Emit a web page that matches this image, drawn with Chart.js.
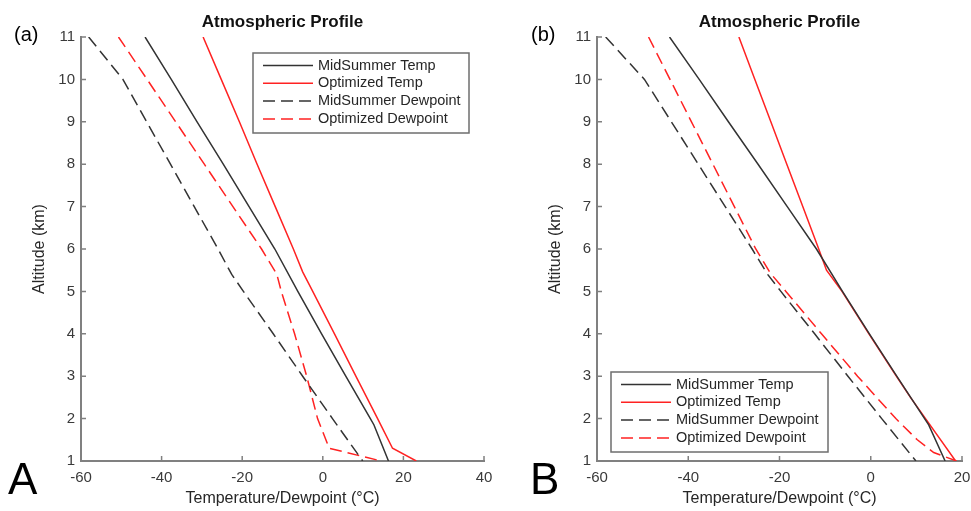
<!DOCTYPE html>
<html>
<head>
<meta charset="utf-8">
<title>Atmospheric Profile</title>
<script src="https://cdn.jsdelivr.net/npm/chart.js@4.4.1/dist/chart.umd.min.js"></script>
<style>
  html, body { margin: 0; padding: 0; background: #fff; }
  #wrap { position: relative; width: 971px; height: 511px; }
  #wrap canvas { position: absolute; left: 0; top: 0; }
</style>
</head>
<body>
<div id="wrap">
  <canvas id="chartA" width="971" height="511"></canvas>
  <canvas id="chartB" width="971" height="511"></canvas>
</div>
<script>
// series names
const seriesNames = ["MidSummer Temp", "Optimized Temp", "MidSummer Dewpoint", "Optimized Dewpoint"];

// MidSummer profile (same in both panels)
const altMidTemp = [11, 10, 9, 8, 7, 6, 5, 4, 3, 2, 1.85, 1];
const midTemp = [-44.1, -37.6, -31.2, -24.7, -18.3, -11.9, -6.2, -0.3, 5.7, 11.8, 12.7, 16.3];
const altMidDew = [11, 10, 9, 8, 7, 6, 5.4, 5, 4, 3, 2, 1];
const midDew = [-58.1, -49.6, -43.7, -37.8, -31.9, -26.0, -22.6, -19.7, -12.3, -5.0, 2.4, 9.9];

// panel (a) optimized profile
const altOptTempA = [11, 10, 9, 8, 7, 6, 5.46, 5, 4, 3, 2, 1.3, 1];
const optTempA = [-29.7, -25.2, -20.7, -16.3, -11.8, -7.3, -5.0, -2.5, 2.9, 8.2, 13.6, 17.3, 23.2];
const altOptDewA = [11, 10, 9, 8, 7, 6, 5.4, 5, 4, 3, 2, 1.3, 1];
const optDewA = [-50.7, -43.6, -36.5, -29.4, -22.3, -15.2, -11.4, -10.3, -7.0, -4.0, -1.3, 1.6, 14.5];

// panel (b) optimized profile
const altOptTempB = [11, 10, 9, 8, 7, 6, 5.5, 5, 4, 3, 2.5, 1];
const optTempB = [-28.9, -25.4, -21.9, -18.4, -14.9, -11.4, -9.7, -6.3, -0.4, 5.6, 8.7, 18.6];
const altOptDewB = [11, 10, 9, 8, 7, 6, 5.43, 5, 4, 3, 2, 1.5, 1.2, 1];
const optDewB = [-48.7, -44.0, -39.3, -34.6, -29.9, -25.2, -22.0, -18.6, -10.8, -2.9, 5.5, 10.2, 13.8, 18.8];

// tick labels
const altTicks = [1, 2, 3, 4, 5, 6, 7, 8, 9, 10, 11];
const tempTicksA = [-60, -40, -20, 0, 20, 40];
const tempTicksB = [-60, -40, -20, 0, 20];

const FONT = '"Liberation Sans", Arial, Helvetica, sans-serif';
const BLACK = "#333333";
const RED = "#ff2222";
const AXIS = "#808080";

const pts = (temps, alts) => temps.map((t, i) => ({ x: t, y: alts[i] }));

// matlab-like inward tick marks
const innerTicks = {
  id: "innerTicks",
  afterDraw(chart) {
    const { ctx, chartArea, scales: { x, y } } = chart;
    ctx.save();
    ctx.strokeStyle = AXIS;
    ctx.lineWidth = 1.5;
    ctx.beginPath();
    x.ticks.forEach((t) => {
      const px = x.getPixelForValue(t.value);
      ctx.moveTo(px, chartArea.bottom);
      ctx.lineTo(px, chartArea.bottom - 5);
    });
    y.ticks.forEach((t) => {
      const py = y.getPixelForValue(t.value);
      ctx.moveTo(chartArea.left, py);
      ctx.lineTo(chartArea.left + 5, py);
    });
    ctx.stroke();
    ctx.restore();
  },
};

// boxed legend placed inside the axes
const boxLegend = {
  id: "boxLegend",
  afterDraw(chart, args, opts) {
    const { ctx } = chart;
    const { left, top, width, height } = opts;
    ctx.save();
    ctx.fillStyle = "#fff";
    ctx.fillRect(left, top, width, height);
    ctx.strokeStyle = "#6e6e6e";
    ctx.lineWidth = 1.5;
    ctx.strokeRect(left, top, width, height);
    ctx.font = "14.5px " + FONT;
    ctx.textBaseline = "middle";
    chart.data.datasets.forEach((ds, i) => {
      const yy = top + 12.5 + i * 17.8;
      ctx.strokeStyle = ds.borderColor;
      ctx.lineWidth = ds.borderWidth;
      ctx.setLineDash(ds.borderDash || []);
      ctx.beginPath();
      ctx.moveTo(left + 10, yy);
      ctx.lineTo(left + 60, yy);
      ctx.stroke();
      ctx.setLineDash([]);
      ctx.fillStyle = "#262626";
      ctx.fillText(ds.label, left + 65, yy);
    });
    ctx.restore();
  },
};

// title, (a)/(b) tag and big panel letter
const panelText = {
  id: "panelText",
  afterDraw(chart, args, opts) {
    const { ctx, chartArea } = chart;
    ctx.save();
    ctx.fillStyle = "#111";
    ctx.textBaseline = "alphabetic";
    ctx.textAlign = "center";
    ctx.font = "bold 17px " + FONT;
    ctx.fillText(opts.title, (chartArea.left + chartArea.right) / 2, 27);
    ctx.textAlign = "left";
    ctx.fillStyle = "#000";
    ctx.font = "20px " + FONT;
    ctx.fillText(opts.tag, opts.tagX, 41);
    ctx.font = "44px " + FONT;
    ctx.fillText(opts.letter, opts.letterX, 494);
    ctx.restore();
  },
};

function makeChart(id, d) {
  const datasets = [
    { label: seriesNames[0], data: pts(midTemp, altMidTemp), borderColor: BLACK, borderWidth: 1.5 },
    { label: seriesNames[1], data: pts(d.optTemp, d.altOptTemp), borderColor: RED, borderWidth: 1.5 },
    { label: seriesNames[2], data: pts(midDew, altMidDew), borderColor: BLACK, borderWidth: 1.5, borderDash: [12, 6] },
    { label: seriesNames[3], data: pts(d.optDew, d.altOptDew), borderColor: RED, borderWidth: 1.5, borderDash: [12, 6] },
  ].map((ds) => ({ ...ds, showLine: true, pointRadius: 0, fill: false, tension: 0 }));

  return new Chart(document.getElementById(id), {
    type: "scatter",
    data: { datasets },
    options: {
      responsive: false,
      animation: false,
      layout: { padding: d.padding },
      plugins: {
        legend: { display: false },
        tooltip: { enabled: false },
        boxLegend: d.legendBox,
        panelText: d.text,
      },
      scales: {
        x: {
          type: "linear",
          min: d.tempTicks[0],
          max: d.tempTicks[d.tempTicks.length - 1],
          afterBuildTicks: (s) => { s.ticks = d.tempTicks.map((v) => ({ value: v })); },
          afterFit: (s) => { s.height = 50; s.paddingLeft = 0; s.paddingRight = 0; },
          grid: { drawOnChartArea: false, drawTicks: false },
          border: { display: true, color: AXIS, width: 2 },
          ticks: { color: "#3a3a3a", font: { size: 15, family: FONT }, padding: 8, maxRotation: 0, autoSkip: false },
          title: {
            display: true,
            text: "Temperature/Dewpoint (°C)",
            color: "#262626",
            font: { size: 16, family: FONT },
            padding: { top: 0, bottom: 3 },
          },
        },
        y: {
          type: "linear",
          min: 1,
          max: 11,
          afterBuildTicks: (s) => { s.ticks = altTicks.map((v) => ({ value: v })); },
          afterFit: (s) => { s.width = 81; s.paddingTop = 0; s.paddingBottom = 0; },
          grid: { drawOnChartArea: false, drawTicks: false },
          border: { display: true, color: AXIS, width: 2 },
          ticks: { color: "#3a3a3a", font: { size: 15, family: FONT }, padding: 6, autoSkip: false },
          title: {
            display: true,
            text: "Altitude (km)",
            color: "#262626",
            font: { size: 16, family: FONT },
            padding: { top: 30, bottom: 0 },
          },
        },
      },
    },
    plugins: [innerTicks, boxLegend, panelText],
  });
}

makeChart("chartA", {
  altOptTemp: altOptTempA, optTemp: optTempA,
  altOptDew: altOptDewA, optDew: optDewA,
  tempTicks: tempTicksA,
  padding: { left: 0, top: 37, right: 487, bottom: 0 },
  legendBox: { left: 253, top: 53, width: 216, height: 80 },
  text: { title: "Atmospheric Profile", tag: "(a)", tagX: 14, letter: "A", letterX: 8 },
});

makeChart("chartB", {
  altOptTemp: altOptTempB, optTemp: optTempB,
  altOptDew: altOptDewB, optDew: optDewB,
  tempTicks: tempTicksB,
  padding: { left: 516, top: 37, right: 9, bottom: 0 },
  legendBox: { left: 611, top: 372, width: 217, height: 80 },
  text: { title: "Atmospheric Profile", tag: "(b)", tagX: 531, letter: "B", letterX: 530 },
});
</script>
</body>
</html>
